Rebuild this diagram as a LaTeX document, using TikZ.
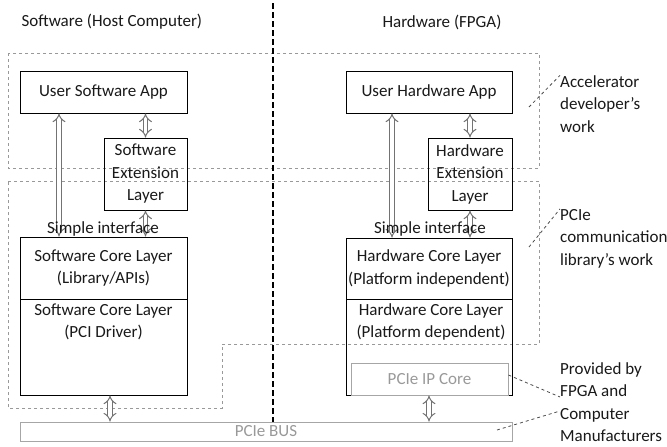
\documentclass[tikz,border=0pt]{standalone}
\usepackage{fontspec}
\setmainfont{Carlito}
\usetikzlibrary{arrows.meta,positioning}

\begin{document}
\begin{tikzpicture}[x=1pt,y=-1pt,
    every node/.style={font=\fontsize{17}{22.5}\selectfont,text=black!90},
    layer node/.style={rectangle,draw,line width=1pt,align=center,inner sep=1pt},
    grey node/.style={rectangle,draw=black!35,line width=0.9pt,text=black!40},
    label node/.style={align=left,anchor=west,inner sep=0pt},
    region/.style={draw=black!40,dashed,line width=0.8pt},
    divider/.style={draw=black,dash pattern=on 6pt off 3pt,line width=1.1pt},
    link/.style={draw=black!70,dashed,line width=0.8pt},
    dbl/.style={draw=black!55,double=white,double distance=3.5pt,line width=1pt,
        {Implies[scale=1.4]}-{Implies[scale=1.4]}}]

  \useasboundingbox (0,0) rectangle (667,447);

  % titles
  \node[anchor=west] (SW) at (18,22) {Software (Host Computer)};
  \node (HW) at (442,22) {Hardware (FPGA)};

  % work regions
  \draw[region] (8,53) rectangle (539,168);
  \draw[region] (8,181) -- (539,181) -- (539,344) -- (222,344) -- (222,408) -- (8,408) -- cycle;

  % software side
  \node[layer node,minimum width=167pt,minimum height=42pt] (SA) at (103.5,92) {User Software App};
  \node[layer node,minimum width=83pt,minimum height=72pt] (SE) at (145.5,174) {Software\\Extension\\Layer};
  \node[layer node,minimum width=167pt,minimum height=62pt] (SC) at (103.5,268) {Software Core Layer\\(Library/APIs)};
  \node[layer node,minimum width=167pt,minimum height=96pt] (SD) at (103.5,347) {};
  \node[align=center] (SDT) at (103.5,322) {Software Core Layer\\(PCI Driver)};

  % hardware side
  \node[layer node,minimum width=166pt,minimum height=42pt] (HA) at (429,92) {User Hardware App};
  \node[layer node,minimum width=84pt,minimum height=72pt] (HE) at (470,174) {Hardware\\Extension\\Layer};
  \node[layer node,minimum width=166pt,minimum height=61pt,inner sep=0pt] (HC) at (429,268.5) {Hardware Core Layer\\(Platform independent)};
  \node[layer node,minimum width=166pt,minimum height=96pt] (HD) at (429,347) {};
  \node[align=center] (HDT) at (431,322) {Hardware Core Layer\\(Platform dependent)};
  \node[grey node,minimum width=157pt,minimum height=32pt] (IP) at (429.5,379) {PCIe IP Core};

  % bus
  \node[grey node,minimum width=492pt,minimum height=19pt,inner sep=0pt] (BUS) at (266,431.5) {PCIe BUS};

  \draw[divider] (273,3) -- (273,3 |- BUS.north);

  % interfaces
  \draw[dbl] ([xshift=-44.5pt]SA.south) -- ([xshift=-44.5pt]SC.north);
  \draw[dbl] (SA.south -| SE.north) -- (SE.north);
  \draw[dbl] (SE.south) -- (SE.south |- SC.north);
  \draw[dbl] ([xshift=6.5pt]SD.south) -- ([xshift=6.5pt]SD.south |- BUS.north);
  \draw[dbl] ([xshift=-37pt]HA.south) -- ([xshift=-37pt]HC.north);
  \draw[dbl] (HA.south -| HE.north) -- (HE.north);
  \draw[dbl] (HE.south) -- (HE.south |- HC.north);
  \draw[dbl] (HD.south) -- (HD.south |- BUS.north);

  \node (SI1) at (103,229) {Simple interface};
  \node (SI2) at (430,229) {Simple interface};

  % side notes
  \node[label node] (AD) at (560,104) {Accelerator\\developer’s\\work};
  \node[label node] (PL) at (560,238.5) {PCIe\\communication\\library’s work};
  \node[label node] (PM) at (560,402) {Provided by\\FPGA and\\Computer\\Manufacturers};

  \coordinate (AC) at (529,107);
  \coordinate (PC) at (529,247);
  \coordinate (BC) at (497,430);
  \draw[link] (AC) -- (AD.north west);
  \draw[link] (PC) -- (PL.north west);
  \draw[link] ([yshift=4pt]IP.east) -- ([yshift=5pt]PM.west);
  \draw[link] (BC) -- ([yshift=-9pt]PM.west);
\end{tikzpicture}
\end{document}
